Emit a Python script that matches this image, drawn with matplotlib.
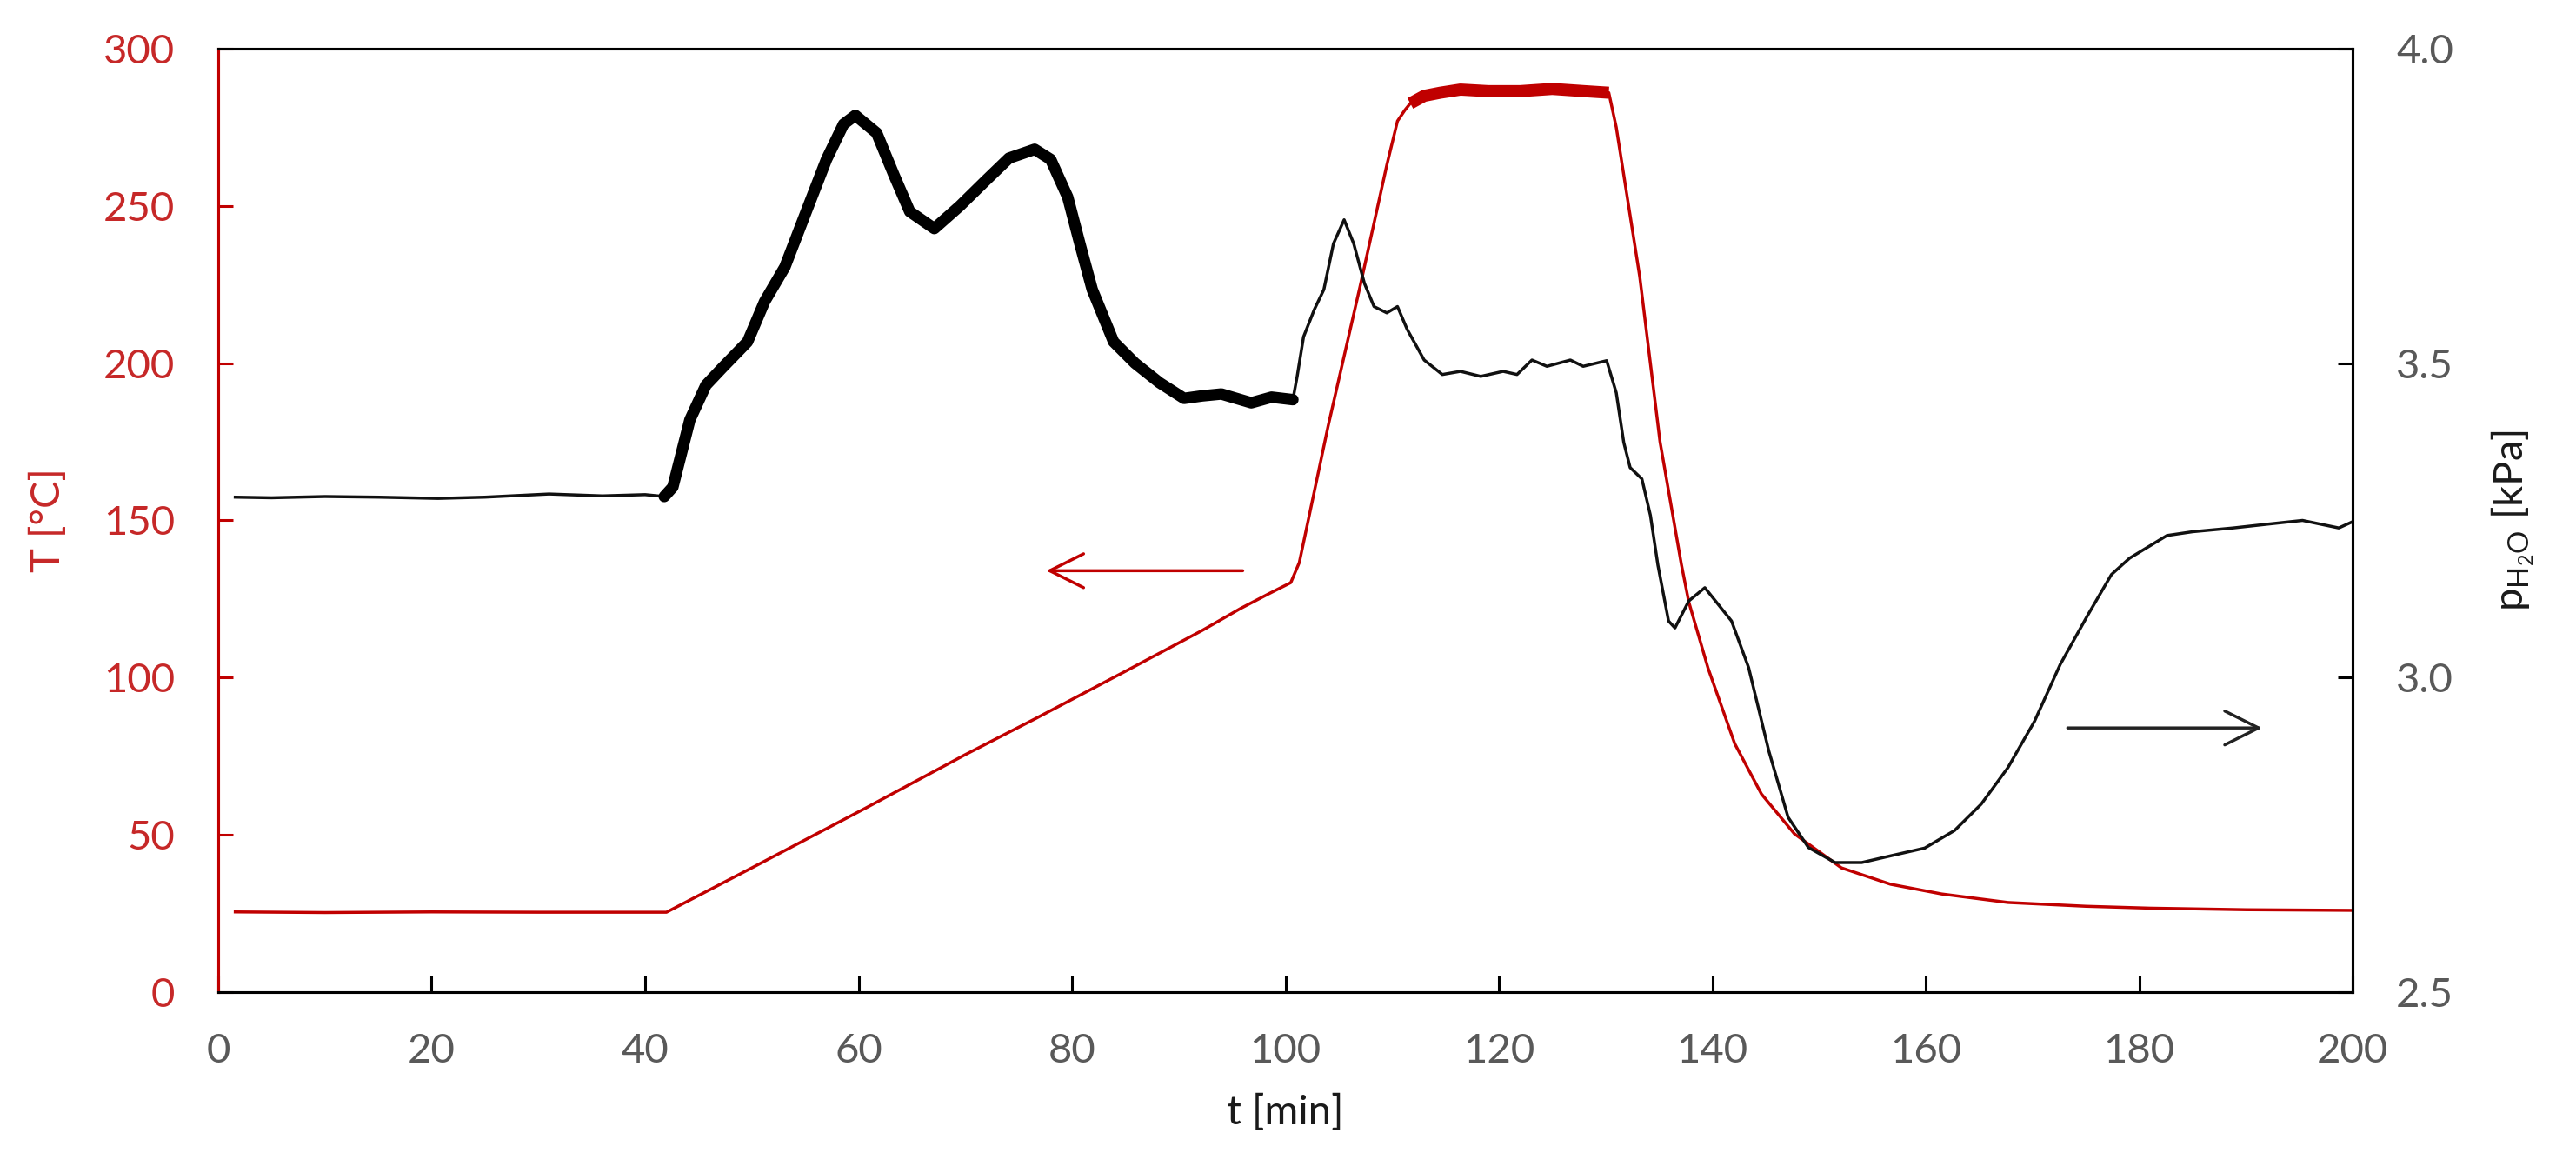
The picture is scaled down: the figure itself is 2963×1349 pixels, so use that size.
import matplotlib
matplotlib.use("Agg")
import matplotlib.pyplot as plt
import numpy as np

# temperature (left axis, degC)
temp_t = [1.6, 10, 20, 30, 42.0, 50, 60.6, 70, 76.6, 85, 92.2, 95.8, 98.4, 100.5,
          101.3, 104, 107.0, 109.5, 110.5, 111.2, 111.7, 113, 114.5, 116.4, 119, 122,
          125, 128, 130.3, 131.0, 133.2, 135.1, 137.1, 137.8, 139.6, 142.1, 144.6,
          147.7, 152.1, 156.7, 161.5, 167.7, 175, 181, 190, 200]
temp = [25.5, 25.3, 25.5, 25.4, 25.4, 39.5, 58.4, 75.5, 87, 102, 115, 122, 126.6, 130.2,
        136.6, 180, 224.5, 263, 277, 280.5, 282.6, 285, 286, 287, 286.5, 286.5,
        287.2, 286.5, 286, 275, 227.5, 175, 136, 124, 103, 79, 63,
        50.3, 39.5, 34.3, 31.2, 28.5, 27.3, 26.7, 26.2, 26.0]
temp_thick = (111.7, 130.3)

# water vapour partial pressure (right axis, kPa)
press_t = [1.6, 5, 10, 15, 20.6, 25, 31, 36, 40, 41.8,
           42.6, 44.2, 45.7, 47.2, 49.6, 51.2, 53.1, 55.1, 57.0, 58.6,
           59.7, 61.7, 63.3, 64.8, 67.1, 69.5, 71.9, 74.1, 76.5, 78.0,
           79.6, 80.8, 81.9, 83.9, 85.9, 88.2, 90.5, 92.2, 94.0, 96.8,
           98.7, 100.7, 101.1, 101.7, 102.7, 103.6, 104.5, 105.5, 106.4, 107.4,
           108.3, 109.5, 110.5, 111.4, 113.0, 114.7, 116.4, 118.3, 120.4, 121.7,
           123.1, 124.5, 126.7, 127.9, 130.1, 131.0, 131.7, 132.3, 133.4, 134.2,
           134.9, 135.9, 136.5, 137.8, 139.3, 141.8, 143.4, 145.3, 147.1, 149.0,
           151.5, 154.0, 156.8, 159.9, 162.7, 165.2, 167.7, 170.2, 172.6, 175.2,
           177.4, 179.1, 182.6, 185, 188.8, 192, 195.3, 198.7, 200]
press = [3.287, 3.286, 3.288, 3.287, 3.285, 3.287, 3.292, 3.289, 3.291, 3.288,
         3.303, 3.41, 3.465, 3.492, 3.534, 3.598, 3.653, 3.741, 3.824, 3.88,
         3.894, 3.866, 3.80, 3.741, 3.714, 3.75, 3.79, 3.826, 3.84, 3.824,
         3.764, 3.686, 3.617, 3.534, 3.50, 3.469, 3.444, 3.448, 3.451, 3.437,
         3.446, 3.442, 3.479, 3.542, 3.585, 3.617, 3.69, 3.728, 3.69, 3.627,
         3.59, 3.58, 3.59, 3.554, 3.505, 3.482, 3.487, 3.479, 3.487, 3.482,
         3.505, 3.495, 3.505, 3.495, 3.504, 3.453, 3.374, 3.334, 3.316, 3.258,
         3.179, 3.09, 3.079, 3.122, 3.143, 3.09, 3.016, 2.883, 2.778, 2.73,
         2.706, 2.706, 2.717, 2.729, 2.757, 2.799, 2.857, 2.931, 3.021, 3.10,
         3.164, 3.19, 3.226, 3.232, 3.238, 3.244, 3.25, 3.238, 3.248]
press_thick = (41.8, 100.7)

x_ticks = list(range(0, 201, 20))
temp_ticks = list(range(0, 301, 50))
press_ticks = [2.5, 3.0, 3.5, 4.0]

RED = "#C00000"
RED_TEXT = "#C62828"
GREY = "#595959"

plt.rcParams["font.family"] = ["Lato", "DejaVu Sans"]
plt.rcParams["mathtext.fontset"] = "custom"
plt.rcParams["mathtext.rm"] = "Lato"
plt.rcParams["mathtext.it"] = "Lato"


def thick_part(t, y, bounds):
    t = np.asarray(t)
    y = np.asarray(y)
    m = (t >= bounds[0]) & (t <= bounds[1])
    return t[m], y[m]


fig = plt.figure(figsize=(29.63, 13.49), dpi=100)
ax = fig.add_axes([0.0847, 0.1542, 0.8286, 0.8043])
ax2 = ax.twinx()

ax.plot(temp_t, temp, color=RED, lw=2.5, solid_joinstyle="round")
tt, ty = thick_part(temp_t, temp, temp_thick)
ax.plot(tt, ty, color=RED, lw=10, solid_capstyle="butt", solid_joinstyle="round")

ax2.plot(press_t, press, color="#111111", lw=2.5, solid_joinstyle="round")
pt, py = thick_part(press_t, press, press_thick)
ax2.plot(pt, py, color="black", lw=9.5, solid_joinstyle="round",
         solid_capstyle="round")

ax.annotate("", xy=(77.6, 134), xytext=(96.0, 134),
            arrowprops=dict(arrowstyle="->,head_length=2.8,head_width=1.4",
                            color=RED, lw=2.5, mutation_scale=10,
                            shrinkA=0, shrinkB=0))
ax2.annotate("", xy=(191.5, 2.92), xytext=(173.3, 2.92),
             arrowprops=dict(arrowstyle="->,head_length=2.8,head_width=1.4",
                             color="#222222", lw=2.5, mutation_scale=10,
                             shrinkA=0, shrinkB=0))

ax.set_xlim(0, 200)
ax.set_ylim(0, 300)
ax2.set_ylim(2.5, 4.0)
ax.set_xticks(x_ticks)
ax.set_yticks(temp_ticks)
ax2.set_yticks(press_ticks)
ax2.set_yticklabels([f"{v:.1f}" for v in press_ticks])

for sp in ax.spines.values():
    sp.set_linewidth(2.2)
for sp in ax2.spines.values():
    sp.set_linewidth(2.2)
ax.spines["left"].set_color(RED)
ax2.spines["left"].set_color(RED)
ax2.spines["right"].set_color("black")

ax.tick_params(axis="x", direction="in", length=14, width=2.2, color="black",
               labelsize=34, labelcolor=GREY, pad=34)
ax.tick_params(axis="y", direction="in", length=12, width=2.2, color=RED,
               labelsize=34, labelcolor=RED_TEXT, pad=36)
ax2.tick_params(axis="y", direction="in", length=12, width=2.2, color="black",
                labelsize=34, labelcolor=GREY, pad=36)

ax.set_xlabel("t [min]", fontsize=34, color="#1a1a1a", labelpad=20)
ax.set_ylabel("T [°C]", fontsize=34, color=RED_TEXT, labelpad=30)
ax2.set_ylabel(r"p$_{\mathregular{H_2O}}$ [kPa]", fontsize=34, color="#1a1a1a",
               labelpad=30)

fig.savefig("out.png", dpi=100, facecolor="white")
